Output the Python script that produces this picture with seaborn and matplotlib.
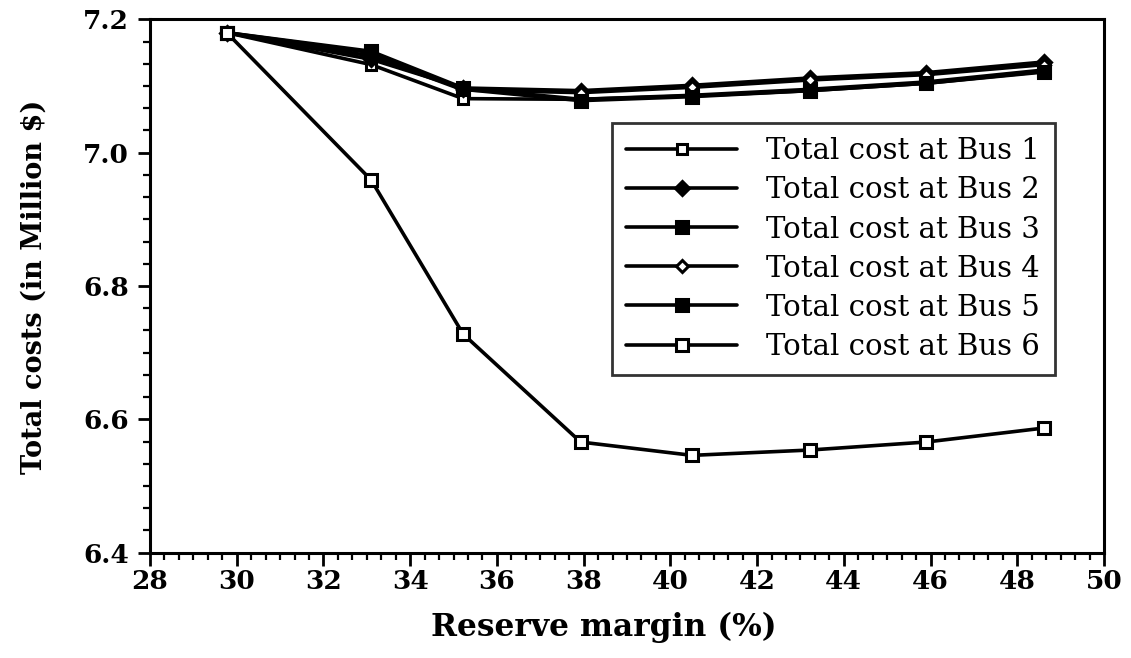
import matplotlib
matplotlib.use("Agg")
import matplotlib.pyplot as plt
from matplotlib.ticker import AutoMinorLocator
import seaborn as sns
import pandas as pd

# Reserve margin (%) at each simulated case
reserve_margin = [29.77, 33.10, 35.22, 37.93, 40.50, 43.22, 45.90, 48.62]

# Total costs (Million $) when the extra capacity is placed at each bus
bus1 = [7.180, 7.132, 7.081, 7.080, 7.085, 7.093, 7.104, 7.122]
bus2 = [7.180, 7.140, 7.097, 7.093, 7.101, 7.112, 7.120, 7.136]
bus3 = [7.180, 7.152, 7.097, 7.080, 7.086, 7.095, 7.106, 7.124]
bus4 = [7.180, 7.145, 7.094, 7.090, 7.098, 7.109, 7.117, 7.132]
bus5 = [7.180, 7.150, 7.095, 7.078, 7.084, 7.093, 7.104, 7.121]
bus6 = [7.180, 6.959, 6.728, 6.566, 6.546, 6.554, 6.566, 6.587]

series_labels = ["Total cost at Bus 1", "Total cost at Bus 2", "Total cost at Bus 3",
                 "Total cost at Bus 4", "Total cost at Bus 5", "Total cost at Bus 6"]
series_values = [bus1, bus2, bus3, bus4, bus5, bus6]

x_ticks = [28, 30, 32, 34, 36, 38, 40, 42, 44, 46, 48, 50]
y_ticks = [6.4, 6.6, 6.8, 7.0, 7.2]

# marker shape, face colour, size for each series
styles = [("s", "white", 6.5), ("D", "black", 7), ("s", "black", 8.5),
          ("D", "white", 6.5), ("s", "black", 8.5), ("s", "white", 8.5)]

sns.set_theme(style="ticks")
plt.rcParams["font.family"] = ["DejaVu Serif"]

fig = plt.figure(figsize=(11.31, 6.58), dpi=100)
ax = fig.add_axes([150 / 1131, 1 - 552.7 / 658, (1104 - 150) / 1131, (552.7 - 19.3) / 658])

for label, vals, (mk, fc, ms) in zip(series_labels, series_values, styles):
    df = pd.DataFrame({"margin": reserve_margin, "cost": vals})
    sns.lineplot(data=df, x="margin", y="cost", ax=ax, color="black", lw=2.6,
                 marker=mk, markersize=ms, markerfacecolor=fc,
                 markeredgecolor="black", markeredgewidth=2.2, label=label)

ax.set_xlim(28, 50)
ax.set_ylim(6.4, 7.2)
ax.set_xticks(x_ticks)
ax.set_yticks(y_ticks)
ax.set_yticklabels([f"{v:.1f}" for v in y_ticks])
ax.xaxis.set_minor_locator(AutoMinorLocator(6))
ax.yaxis.set_minor_locator(AutoMinorLocator(6))
ax.tick_params(axis="both", which="major", direction="out", length=9, width=2,
               labelsize=19, color="black", labelcolor="black")
ax.tick_params(axis="x", which="major", pad=3)
ax.tick_params(axis="y", which="major", pad=6)
ax.tick_params(axis="both", which="minor", direction="out", length=5, width=1.6,
               color="black")
for lab in ax.get_xticklabels() + ax.get_yticklabels():
    lab.set_fontweight("bold")
for side in ["left", "right", "top", "bottom"]:
    ax.spines[side].set_visible(True)
    ax.spines[side].set_linewidth(2.2)
    ax.spines[side].set_color("black")

ax.set_xlabel("Reserve margin (%)", fontsize=22.5, fontweight="bold", color="black")
ax.xaxis.set_label_coords(0.476, -0.11)
ax.set_ylabel(r"Total costs (in Million \$)", fontsize=19.5, fontweight="bold",
              color="black")
ax.yaxis.set_label_coords(-0.107, 0.498)

leg = ax.legend(loc="upper left", bbox_to_anchor=(0.484, 0.806), frameon=True,
                fancybox=False, edgecolor="black", fontsize=21, handlelength=3.8,
                handletextpad=1.0, labelspacing=0.38, borderpad=0.5, borderaxespad=0)
leg.get_frame().set_linewidth(2)
for t in leg.get_texts():
    t.set_color("black")

fig.savefig("out.png", dpi=100, facecolor="white")
